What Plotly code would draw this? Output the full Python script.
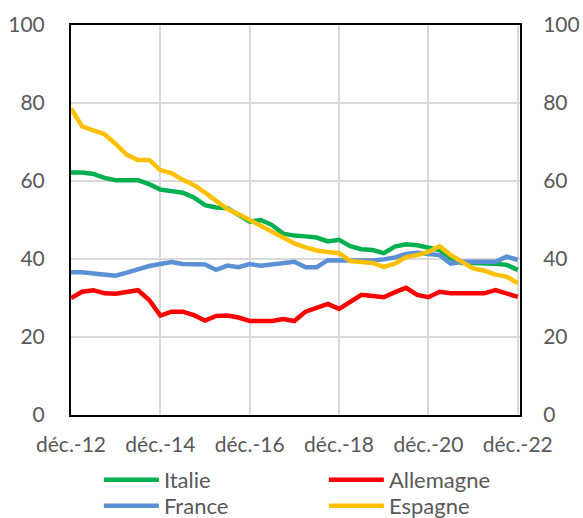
import plotly.graph_objects as go

# Quarterly observations, déc.-12 .. déc.-22 (41 points)
quarters = list(range(41))
tick_positions = [0, 8, 16, 24, 32, 40]
tick_labels = ["déc.-12", "déc.-14", "déc.-16", "déc.-18", "déc.-20", "déc.-22"]
y_ticks = [0, 20, 40, 60, 80, 100]

italie = [62.2, 62.2, 61.8, 60.8, 60.2, 60.2, 60.2, 59.2, 57.8, 57.4,
          57.0, 55.8, 53.8, 53.2, 53.0, 51.3, 49.6, 50.0, 48.7, 46.5,
          46.0, 45.8, 45.5, 44.5, 44.9, 43.3, 42.5, 42.3, 41.5, 43.2,
          43.8, 43.5, 43.0, 42.3, 40.2, 39.0, 39.0, 39.0, 38.8, 38.5, 37.2]
allemagne = [30.0, 31.6, 32.0, 31.2, 31.1, 31.5, 32.0, 29.5, 25.5, 26.5,
             26.5, 25.6, 24.2, 25.4, 25.5, 25.0, 24.1, 24.1, 24.1, 24.6,
             24.1, 26.5, 27.5, 28.5, 27.2, 29.0, 30.8, 30.5, 30.2, 31.5,
             32.6, 30.8, 30.2, 31.6, 31.2, 31.2, 31.2, 31.2, 32.0, 31.0, 30.3]
france = [36.6, 36.6, 36.3, 36.1, 35.7, 36.5, 37.3, 38.2, 38.7, 39.2,
          38.7, 38.6, 38.6, 37.2, 38.3, 37.9, 38.7, 38.3, 38.7, 38.9,
          39.3, 37.9, 37.9, 39.7, 39.7, 39.6, 39.6, 39.6, 39.9, 40.4,
          41.3, 41.6, 41.3, 41.0, 38.8, 39.3, 39.3, 39.3, 39.3, 40.6, 39.8]
espagne = [78.6, 74.0, 73.0, 72.0, 69.5, 66.7, 65.4, 65.4, 62.8, 62.0,
           60.3, 59.0, 57.0, 54.8, 52.8, 51.5, 50.0, 48.7, 47.0, 45.5,
           44.0, 43.0, 42.2, 41.8, 41.5, 39.5, 39.2, 39.0, 38.0, 38.8,
           40.5, 41.0, 41.8, 43.3, 41.0, 39.3, 37.6, 37.0, 36.0, 35.5, 33.8]

series = [
    ("Italie", italie, "#00B050", "legend"),
    ("Allemagne", allemagne, "#FF0000", "legend"),
    ("France", france, "#5B8FD6", "legend2"),
    ("Espagne", espagne, "#FFC000", "legend2"),
]

FONT = "Lato"
GREY = "#595959"

fig = go.Figure()
for name, vals, col, leg in series:
    fig.add_trace(go.Scatter(x=quarters, y=vals, name=name, mode="lines",
                             line=dict(color=col, width=4.5), legend=leg))

# invisible trace for right-hand axis
fig.add_trace(go.Scatter(x=[quarters[0]], y=[0], yaxis="y2", mode="markers",
                         marker=dict(opacity=0), showlegend=False, hoverinfo="skip"))

legend_common = dict(orientation="h", xref="container", yref="container",
                     x=0.1696, xanchor="left", yanchor="top",
                     entrywidth=155, entrywidthmode="pixels", itemwidth=55,
                     font=dict(size=22, color=GREY), tracegroupgap=0,
                     bgcolor="rgba(0,0,0,0)")

fig.update_layout(
    width=583, height=518,
    margin=dict(l=71, r=63, t=25, b=103),
    paper_bgcolor="white", plot_bgcolor="white",
    font=dict(family=FONT, size=21, color=GREY),
    xaxis=dict(range=[0, 40.2], tickvals=tick_positions, ticktext=tick_labels,
               showgrid=True, gridcolor="#D9D9D9", gridwidth=1.5,
               showline=True, linecolor="black", linewidth=2, mirror=True,
               ticks="outside", ticklen=10, tickcolor="rgba(0,0,0,0)",
               zeroline=False, automargin=False,
               tickfont=dict(size=21, color=GREY)),
    yaxis=dict(range=[0, 100], tickvals=y_ticks, showgrid=True,
               gridcolor="#D9D9D9", gridwidth=1.5,
               showline=True, linecolor="black", linewidth=2, mirror=True,
               ticks="outside", ticklen=20, tickcolor="rgba(0,0,0,0)",
               zeroline=False, automargin=False,
               tickfont=dict(size=21, color=GREY)),
    yaxis2=dict(range=[0, 100], tickvals=y_ticks, overlaying="y", side="right",
                showgrid=False, zeroline=False, showline=False,
                ticks="outside", ticklen=18, tickcolor="rgba(0,0,0,0)",
                automargin=False,
                tickfont=dict(size=21, color=GREY)),
    legend=dict(legend_common, y=0.114),
    legend2=dict(legend_common, y=0.064),
    showlegend=True,
)

# remove the default page margin so the figure fills the window exactly
fig.write_html("out.html",
               config={"displayModeBar": False},
               post_script="document.body.style.margin='0';"
                           "document.body.style.overflow='hidden';")
